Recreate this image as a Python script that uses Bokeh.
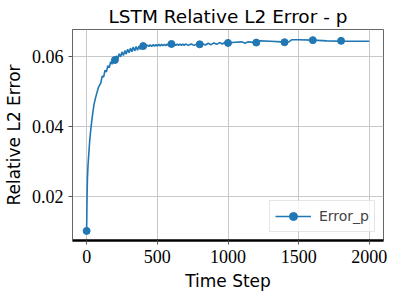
from bokeh.plotting import figure
from bokeh.models import Range1d, FixedTicker, PrintfTickFormatter, Legend, LegendItem
from bokeh.embed import file_html
from bokeh.resources import INLINE

# ---- data ----
steps = [0, 3, 6, 10, 16, 22, 28, 36, 44, 52, 62, 72, 84, 100,
         110, 120, 130, 140, 150, 160, 170, 180, 190, 200,
         210, 220, 230, 240, 250, 260, 270, 280, 290, 300,
         310, 320, 330, 340, 350, 360, 370, 380, 390, 400,
         410, 420, 430, 440, 450, 460, 470, 480, 490, 500,
         510, 520, 530, 540, 550, 560, 570, 580, 590, 600,
         610, 620, 630, 640, 650, 660, 670, 680, 690, 700,
         720, 740, 760, 780, 800, 820, 840, 860, 880, 900,
         920, 940, 960, 980, 1000, 1050, 1100, 1120, 1140, 1200,
         1230, 1300, 1380, 1400, 1430, 1450, 1500, 1600, 1700, 1800,
         1900, 2000]
error_p = [0.0100, 0.0200, 0.0255, 0.0290, 0.0325, 0.0360, 0.0385, 0.0415, 0.0440, 0.0462, 0.0480, 0.0495, 0.0512, 0.0524,
           0.0544, 0.0541, 0.0561, 0.0556, 0.0574, 0.0568, 0.0585, 0.0578, 0.0594, 0.0586,
           0.0602, 0.0593, 0.0608, 0.0599, 0.0613, 0.0603, 0.0617, 0.0607, 0.0621, 0.0611,
           0.0624, 0.0614, 0.0627, 0.0616, 0.0629, 0.0618, 0.0630, 0.0620, 0.0632, 0.0628,
           0.0633, 0.0628, 0.0633, 0.0629, 0.0634, 0.0629, 0.0634, 0.0630, 0.0634, 0.0630,
           0.0635, 0.0630, 0.0635, 0.0631, 0.0635, 0.0631, 0.0636, 0.0631, 0.0636, 0.0636,
           0.0632, 0.0636, 0.0632, 0.0636, 0.0632, 0.0636, 0.0632, 0.0636, 0.0632, 0.0636,
           0.0632, 0.0636, 0.0632, 0.0636, 0.0634, 0.0637, 0.0633, 0.0638, 0.0634, 0.0639,
           0.0635, 0.0640, 0.0636, 0.0641, 0.0639, 0.0641, 0.0642, 0.0638, 0.0642, 0.0640,
           0.0645, 0.0644, 0.0642, 0.0641, 0.0642, 0.0648, 0.0648, 0.0647, 0.0645, 0.0644,
           0.0644, 0.0644]

marker_steps = [0, 200, 400, 600, 800, 1000, 1200, 1400, 1600, 1800]
marker_error = [0.0100, 0.0590, 0.0630, 0.0636, 0.0635, 0.0639, 0.0640, 0.0641, 0.0647, 0.0645]

x_ticks = [0, 500, 1000, 1500, 2000]
y_ticks = [0.02, 0.04, 0.06]

BLUE = "#1f77b4"

p = figure(width=389, height=293, output_backend="svg", toolbar_location=None,
           x_range=Range1d(-100, 2100), y_range=Range1d(0.00725, 0.06775),
           title="LSTM Relative L2 Error - p",
           min_border_left=71, min_border_right=6, min_border_bottom=49, min_border_top=2)

p.title.align = "center"
p.title.text_font = "DejaVu Sans"
p.title.text_font_size = "18.5px"
p.title.text_font_style = "normal"
p.title.text_color = "black"
p.title.standoff = 6

ln = p.line(steps, error_p, line_color=BLUE, line_width=1.6)
sc = p.scatter(marker_steps, marker_error, size=7, fill_color=BLUE, line_color=BLUE)

legend = Legend(items=[LegendItem(label="Error_p", renderers=[ln, sc])],
                location="bottom_right")
legend.label_text_font = "DejaVu Sans"
legend.label_text_font_size = "14px"
legend.border_line_color = "#cccccc"
legend.background_fill_alpha = 0.8
legend.glyph_width = 36
legend.margin = 8
legend.padding = 5
legend.label_standoff = 8
p.add_layout(legend)

p.xaxis.ticker = FixedTicker(ticks=x_ticks)
p.yaxis.ticker = FixedTicker(ticks=y_ticks)
p.yaxis.formatter = PrintfTickFormatter(format="%.2f")
p.xgrid.ticker = FixedTicker(ticks=x_ticks)
p.ygrid.ticker = FixedTicker(ticks=y_ticks)

p.xaxis.major_label_text_font = "Liberation Serif"
p.yaxis.major_label_text_font = "Liberation Serif"
p.xaxis.major_label_text_font_size = "18px"
p.yaxis.major_label_text_font_size = "18px"
p.xaxis.major_label_text_color = "black"
p.yaxis.major_label_text_color = "black"

for ax in [p.xaxis[0], p.yaxis[0]]:
    ax.axis_label_text_font = "DejaVu Sans"
    ax.axis_label_text_font_size = "17px"
    ax.axis_label_text_font_style = "normal"
    ax.axis_label_text_color = "black"
    ax.major_tick_in = 0
    ax.major_tick_out = 4
    ax.minor_tick_line_color = None
    ax.major_tick_line_color = "#555555"

p.xaxis.axis_label = "Time Step"
p.yaxis.axis_label = "Relative L2 Error"
p.xaxis.axis_line_color = "black"
p.xaxis.axis_line_width = 2.5
p.yaxis.axis_line_color = "#666666"
p.yaxis.axis_line_width = 1

p.outline_line_color = "#666666"
p.grid.grid_line_color = "#c8c8c8"
p.grid.grid_line_width = 1

open("out.html", "w").write(file_html(p, INLINE))
